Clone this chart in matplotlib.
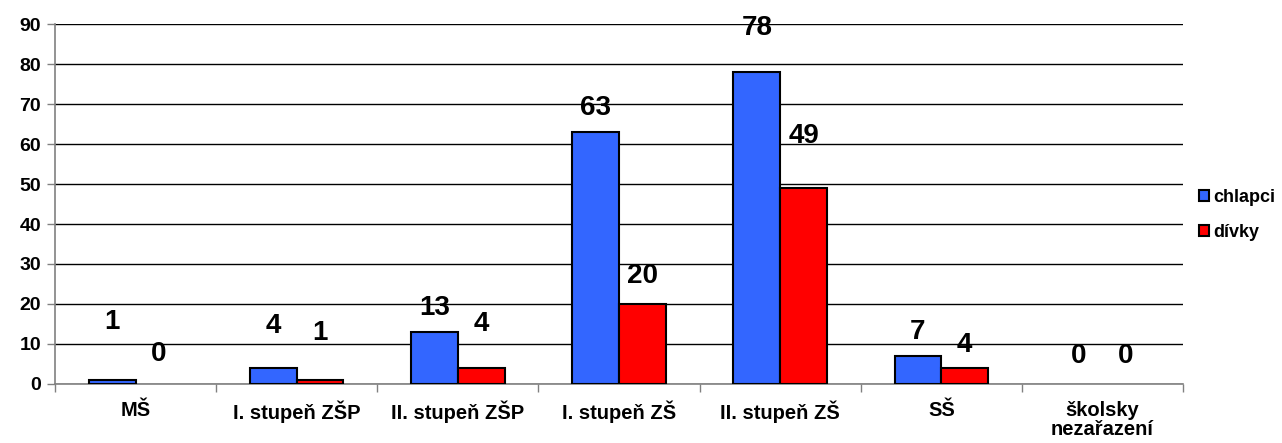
import numpy as np
import matplotlib.pyplot as plt

plt.rcParams['font.family'] = ['Liberation Sans', 'DejaVu Sans']
plt.rcParams['font.weight'] = 'bold'

# data
categories = ['MŠ', 'I. stupeň ZŠP', 'II. stupeň ZŠP', 'I. stupeň ZŠ',
              'II. stupeň ZŠ', 'SŠ', 'školsky\nnezařazení']
chlapci = [1, 4, 13, 63, 78, 7, 0]
divky = [0, 1, 4, 20, 49, 4, 0]
# where the value labels sit (in data units)
label_y_chlapci = [15.5, 14.5, 19, 69, 89, 13, 7]
label_y_divky = [7.5, 12.75, 15, 27, 62, 9.75, 7]

fig = plt.figure(figsize=(12.82, 4.43), dpi=100)
ax = fig.add_axes([0.0429, 0.1332, 0.8799, 0.8126])

x = np.arange(len(categories))
w = 0.29
ax.bar(x - w/2, chlapci, w, color='#3366FF', edgecolor='black',
       linewidth=[1.5 if v else 0 for v in chlapci], label='chlapci', zorder=3)
ax.bar(x + w/2, divky, w, color='#FF0000', edgecolor='black',
       linewidth=[1.5 if v else 0 for v in divky], label='dívky', zorder=3)

for i in range(len(categories)):
    ax.text(x[i] - w/2, label_y_chlapci[i], str(chlapci[i]), ha='center', va='center',
            fontsize=20, fontweight='bold', zorder=4)
    ax.text(x[i] + w/2, label_y_divky[i], str(divky[i]), ha='center', va='center',
            fontsize=20, fontweight='bold', zorder=4)

ax.set_xlim(-0.5, len(categories) - 0.5)
ax.set_ylim(0, 90)
ax.set_yticks(range(0, 91, 10))
ax.yaxis.grid(True, color='black', linewidth=1)
ax.set_axisbelow(True)
ax.tick_params(axis='y', labelsize=14, length=6, color='gray', width=1, pad=4)
for lbl in ax.get_yticklabels():
    lbl.set_fontweight('bold')

ax.set_xticks(x)
ax.set_xticklabels(categories, fontsize=14.5, fontweight='bold', linespacing=1.0)
ax.set_xticks(np.arange(-0.5, len(categories) + 0.5, 1), minor=True)
ax.tick_params(axis='x', which='major', length=0, pad=12)
ax.tick_params(axis='x', which='minor', length=6, color='gray', width=1)

for s in ['top', 'right']:
    ax.spines[s].set_visible(False)
for s in ['left', 'bottom']:
    ax.spines[s].set_color('gray')
    ax.spines[s].set_linewidth(1.2)

leg = fig.legend(loc='center left', bbox_to_anchor=(0.935, 0.515), frameon=False,
                 borderpad=0, borderaxespad=0,
                 handlelength=0.55, handleheight=0.55, handletextpad=0.25,
                 labelspacing=1.0, prop={'weight': 'bold', 'size': 13})
for h in leg.legend_handles:
    h.set_edgecolor('black')
    h.set_linewidth(1.5)

fig.savefig('out.png', dpi=100)
